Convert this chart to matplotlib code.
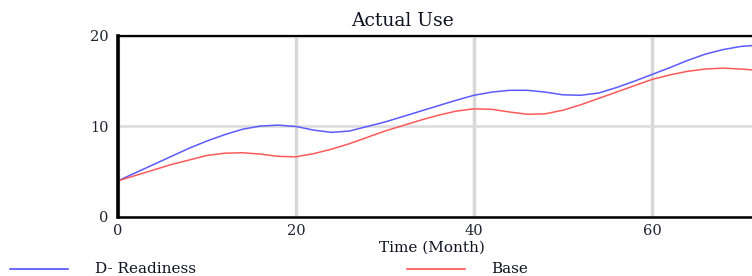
import matplotlib.pyplot as plt
from matplotlib.lines import Line2D

months = list(range(0, 74, 2))
d_readiness = [4.0, 4.9, 5.8, 6.7, 7.6, 8.4, 9.1, 9.7, 10.05, 10.15, 10.0, 9.6,
               9.35, 9.5, 10.0, 10.5, 11.1, 11.7, 12.3, 12.9, 13.45, 13.8, 14.0,
               14.0, 13.8, 13.5, 13.45, 13.7, 14.3, 15.0, 15.75, 16.5, 17.3, 18.0,
               18.5, 18.85, 19.0]
base = [4.0, 4.6, 5.2, 5.8, 6.3, 6.8, 7.05, 7.1, 6.95, 6.7, 6.65, 7.0, 7.5, 8.1,
        8.8, 9.5, 10.1, 10.7, 11.25, 11.7, 11.95, 11.9, 11.6, 11.35, 11.4, 11.8,
        12.4, 13.1, 13.8, 14.5, 15.2, 15.7, 16.1, 16.35, 16.45, 16.35, 16.2]
x_ticks = [0, 20, 40, 60]
y_ticks = [0, 10, 20]

# wide serif, the reference text is stretched sideways
plt.rcParams['font.family'] = ['DejaVu Serif']

W, H = 752, 276
fig = plt.figure(figsize=(W / 100, H / 100), dpi=100)
# axes: x=0 at px 118, 8.9 px per month; y=0 at px 217, y=20 at px 36
ax = fig.add_axes([118 / W, (H - 217) / H, 80 * 8.9 / W, 181 / H])

ax.plot(months, d_readiness, color='#5a5aff', lw=1.1, label='D- Readiness')
ax.plot(months, base, color='#ff5a5a', lw=1.1, label='Base')

ax.set_xlim(0, 80)
ax.set_ylim(0, 20)
ax.set_xticks(x_ticks)
ax.set_yticks(y_ticks)
ax.tick_params(length=0, labelsize=10.5, colors='#222233')
ax.tick_params(axis='y', pad=7)
ax.tick_params(axis='x', pad=5)
ax.grid(axis='x', color='#d8d8d8', lw=2.5)
ax.grid(axis='y', color='#dedede', lw=2)
ax.set_axisbelow(True)
ax.spines['left'].set_linewidth(2.6)
ax.spines['bottom'].set_linewidth(1.8)
ax.spines['top'].set_linewidth(1.6)
ax.spines['right'].set_visible(False)

fig.text(402 / W, 1 - 26 / H, 'Actual Use', ha='center', va='baseline',
         fontsize=13.5, color='#111122')
fig.text(432 / W, 1 - 252 / H, 'Time (Month)', ha='center', va='baseline',
         fontsize=11, color='#111122')

# legend along the bottom edge
fig.add_artist(Line2D([10 / W, 68 / W], [1 - 269 / H, 1 - 269 / H],
                      color='#4040ff', lw=1.1))
fig.text(95 / W, 1 - 273 / H, 'D- Readiness', ha='left', va='baseline',
         fontsize=11, color='#111122')
fig.add_artist(Line2D([407 / W, 465 / W], [1 - 269 / H, 1 - 269 / H],
                      color='#ff4040', lw=1.1))
fig.text(491 / W, 1 - 273 / H, 'Base', ha='left', va='baseline',
         fontsize=11, color='#111122')

fig.savefig('out.png', dpi=100)
